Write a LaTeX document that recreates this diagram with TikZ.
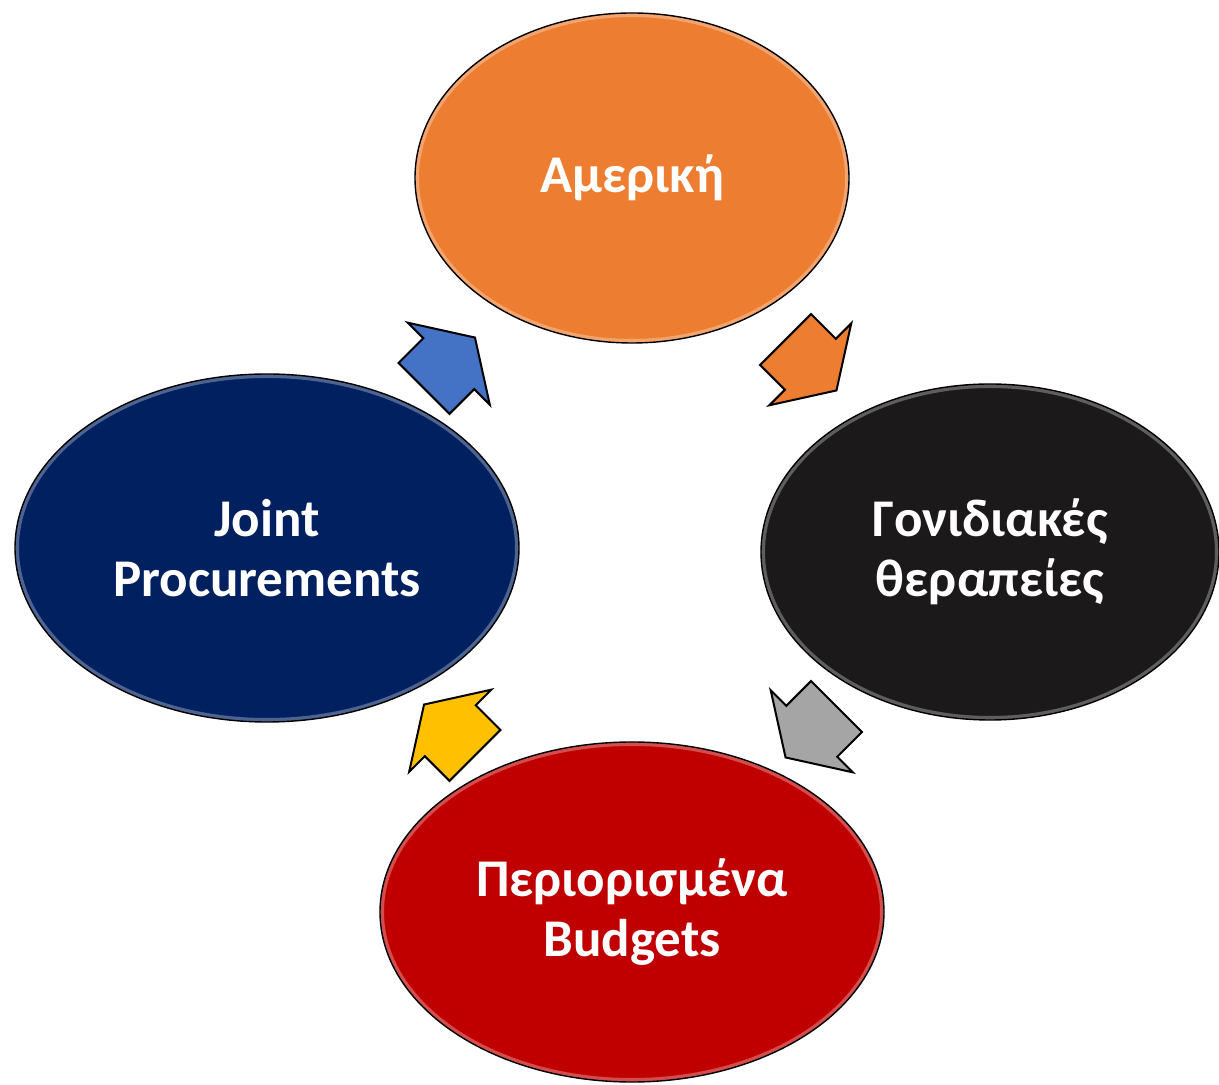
\documentclass[tikz,border=0pt]{standalone}
\usepackage{fontspec}
\setmainfont{Carlito}
\usetikzlibrary{shapes.geometric,calc}
\definecolor{amerikaorange}{HTML}{ED7D31}
\definecolor{genblack}{HTML}{1B1919}
\definecolor{jointblue}{HTML}{002060}
\definecolor{budgetred}{HTML}{C00000}
\definecolor{arrowblue}{HTML}{4472C4}
\definecolor{arrowgray}{HTML}{A5A5A5}
\definecolor{arrowyellow}{HTML}{FFC000}
\begin{document}
\begin{tikzpicture}[x=1pt, y=1pt,
  every node/.style = {shape=ellipse, inner sep=0pt, align=center,
    text=white, font=\fontsize{53}{60}\selectfont\bfseries,
    postaction={draw=white, draw opacity=.3, line width=8pt},
    postaction={draw=black, line width=1.4pt}},
  cyclearrow/.pic = {
    \draw[pic actions] (-36,-36) -- (-1,-36) -- (-1,-58) -- (36,0)
      -- (-1,58) -- (-1,36) -- (-36,36) -- cycle;
  },
  arrowstyle/.style = {draw=black, line width=2pt, line join=miter}
  ]
  \useasboundingbox (0,0) rectangle (1219,1085);

  \node[fill=amerikaorange, minimum width=434, minimum height=330]
    (amerika) at (632,907) {Αμερική};
  \node[fill=genblack, minimum width=458, minimum height=336]
    (gene) at (990,533) {Γονιδιακές\\θεραπείες};
  \node[fill=budgetred, minimum width=504, minimum height=340]
    (budget) at (632,173) {Περιορισμένα\\Budgets};
  \node[fill=jointblue, minimum width=504, minimum height=348]
    (joint) at (267,537) {Joint\\Procurements};

  % arrows of the cycle
  \pic[arrowstyle, fill=arrowblue, rotate=45]
    at ($(joint)!0.5!(amerika)$) {cyclearrow};
  \pic[arrowstyle, fill=amerikaorange, rotate=-45]
    at ($(amerika)!0.5!(gene)$) {cyclearrow};
  \pic[arrowstyle, fill=arrowgray, rotate=-135]
    at ($(gene)!0.5!(budget)$) {cyclearrow};
  \pic[arrowstyle, fill=arrowyellow, rotate=135]
    at ($(budget)!0.5!(joint)$) {cyclearrow};
\end{tikzpicture}
\end{document}
